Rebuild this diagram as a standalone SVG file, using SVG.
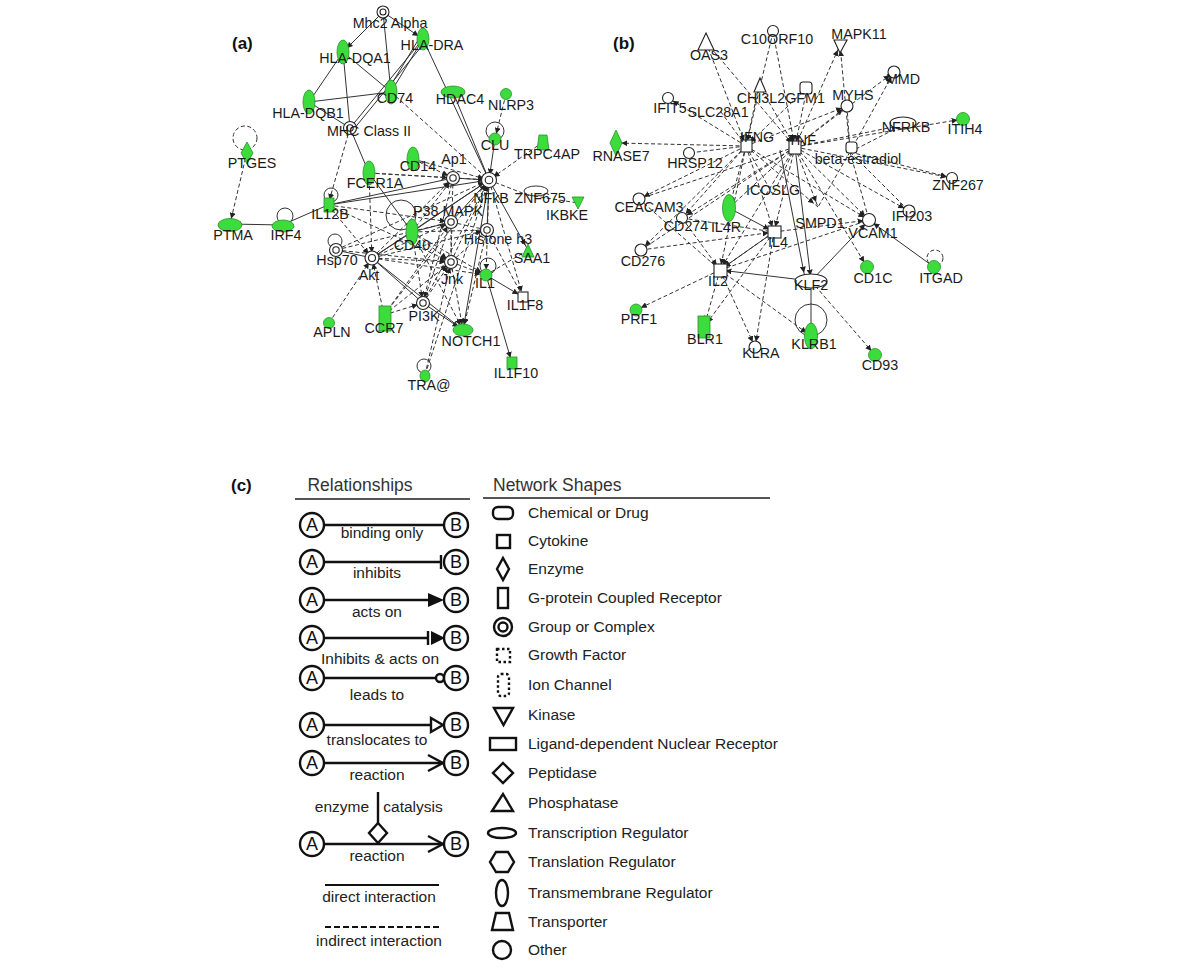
<svg xmlns="http://www.w3.org/2000/svg" width="1200" height="972" viewBox="0 0 1200 972">
<style>
.e{fill:none;stroke:#333;stroke-width:1}
.i{stroke-dasharray:4 2.5}
.a{marker-end:url(#ar)}
.g{fill:#3ddc3d;stroke:#2a8f2a;stroke-width:0.8}
.w{fill:#fff;stroke:#222;stroke-width:1.1}
.t{font-family:"Liberation Sans",Arial,sans-serif;font-size:14.3px;fill:#1a1a1a;text-anchor:middle}
.p{font-family:"Liberation Sans",Arial,sans-serif;font-size:17px;font-weight:bold;fill:#111}
.h{font-family:"Liberation Sans",Arial,sans-serif;font-size:17.5px;fill:#333}
.l{font-family:"Liberation Sans",Arial,sans-serif;font-size:15.5px;fill:#222}
.lc{text-anchor:middle}
.k{fill:none;stroke:#111;stroke-width:2.4}
.kw{fill:#fff;stroke:#111;stroke-width:2.4}
.ab{font-family:"Liberation Sans",Arial,sans-serif;font-size:18px;fill:#111;text-anchor:middle}
</style>
<defs>
<marker id="ar" viewBox="0 0 10 10" refX="19" refY="5" markerWidth="6" markerHeight="6" markerUnits="userSpaceOnUse" orient="auto"><path d="M0,0 L10,5 L0,10 z" fill="#222"/></marker>
</defs>
<rect width="1200" height="972" fill="#fff"/>

<text class="p" x="232" y="49">(a)</text>
<text class="p" x="613" y="49">(b)</text>
<text class="p" x="231" y="491">(c)</text>

<!-- ===== Panel (a) connectors ===== -->
<g id="connectors-a">
<path class="e a" d="M383 12 L343 52"/>
<path class="e a" d="M383 12 L423 39"/>
<path class="e" d="M383 12 L391 92"/>
<path class="e" d="M343 52 L309 102"/>
<path class="e" d="M343 52 L391 92"/>
<path class="e a" d="M350 128 L343 52"/>
<path class="e" d="M309 102 L391 92"/>
<path class="e" d="M309 102 L350 128"/>
<path class="e" d="M423 39 L391 92"/>
<path class="e" d="M420 37 L388 90"/>
<path class="e" d="M423 39 L350 128"/>
<path class="e" d="M426 41 L353 130"/>
<path class="e" d="M423 39 L489 180"/>
<path class="e" d="M453 92 L489 180"/>
<path class="e" d="M350 128 L369 173"/>
<path class="e a" d="M495 139 L489 180"/>
<path class="e a" d="M282 225 L230 224"/>
<path class="e" d="M328 205 L282 225"/>
<path class="e" d="M328 205 L453 178"/>
<path class="e" d="M328 205 L489 180"/>
<path class="e a" d="M489 180 L528 250"/>
<path class="e a" d="M489 180 L463 330"/>
<path class="e a" d="M486 275 L512 363"/>
<path class="e a" d="M486 275 L523 297"/>
<path class="e" d="M336 250 L372 258"/>
<path class="e" d="M372 258 L423 303"/>
<path class="e a" d="M423 303 L463 330"/>
<path class="e" d="M369 173 L412 232"/>
<path class="e" d="M372 258 L412 232"/>
<path class="e" d="M372 258 L463 330"/>
<path class="e" d="M412 232 L451 222"/>
<path class="e" d="M453 178 L489 180"/>
<path class="e" d="M451 222 L489 180"/>
<path class="e" d="M489 180 L487 230"/>
<path class="e" d="M372 258 L489 180"/>
<path class="e" d="M412 232 L489 180"/>
<path class="e i" d="M391 92 L489 180"/>
<path class="e i a" d="M350 128 L328 205"/>
<path class="e i a" d="M247 152 L230 224"/>
<path class="e i a" d="M506 94 L495 139"/>
<path class="e i a" d="M543 142 L489 180"/>
<path class="e i" d="M534 196 L578 203"/>
<path class="e i" d="M489 180 L530 196"/>
<path class="e i a" d="M413 159 L453 178"/>
<path class="e i a" d="M413 159 L489 180"/>
<path class="e i a" d="M369 173 L453 178"/>
<path class="e i a" d="M369 173 L489 180"/>
<path class="e i a" d="M369 173 L372 258"/>
<path class="e i a" d="M328 205 L372 258"/>
<path class="e i a" d="M328 205 L451 262"/>
<path class="e i a" d="M328 205 L451 222"/>
<path class="e i a" d="M336 250 L489 180"/>
<path class="e i a" d="M336 250 L451 262"/>
<path class="e i" d="M336 250 L451 222"/>
<path class="e i a" d="M372 258 L453 178"/>
<path class="e i a" d="M372 258 L451 222"/>
<path class="e i a" d="M372 258 L451 262"/>
<path class="e i a" d="M372 258 L487 230"/>
<path class="e i a" d="M372 258 L486 275"/>
<path class="e i a" d="M329 323 L372 258"/>
<path class="e i a" d="M384 315 L372 258"/>
<path class="e i a" d="M384 315 L451 222"/>
<path class="e i a" d="M384 315 L451 262"/>
<path class="e i a" d="M384 315 L489 180"/>
<path class="e i a" d="M384 315 L423 303"/>
<path class="e i a" d="M412 232 L453 178"/>
<path class="e i a" d="M412 232 L451 262"/>
<path class="e i" d="M412 232 L487 230"/>
<path class="e i a" d="M412 232 L486 275"/>
<path class="e i a" d="M412 232 L423 303"/>
<path class="e i" d="M451 222 L487 230"/>
<path class="e i" d="M451 222 L451 262"/>
<path class="e i a" d="M451 262 L489 180"/>
<path class="e i a" d="M451 262 L486 275"/>
<path class="e i" d="M451 262 L487 230"/>
<path class="e i a" d="M451 262 L463 330"/>
<path class="e i a" d="M423 303 L489 180"/>
<path class="e i" d="M423 303 L451 222"/>
<path class="e i a" d="M423 303 L451 262"/>
<path class="e i a" d="M425 375 L451 262"/>
<path class="e i a" d="M425 375 L489 180"/>
<path class="e i a" d="M489 180 L523 297"/>
<path class="e i a" d="M489 180 L486 275"/>
<path class="e i a" d="M487 230 L463 330"/>
<path class="e i" d="M528 250 L486 275"/>
<path class="e i" d="M453 178 L451 262"/>
<path class="e i a" d="M453 178 L423 303"/>
<path class="e i" d="M487 230 L523 297"/>
<path class="e i a" d="M412 232 L463 330"/>
<!-- self loops -->
<circle class="e i" cx="245" cy="138" r="12"/>
<circle class="e" cx="495" cy="131" r="9"/>
<circle class="e" cx="331" cy="195" r="7"/>
<circle class="e" cx="285" cy="216" r="8"/>
<circle class="e" cx="335" cy="241" r="7"/>
<circle class="e" cx="401" cy="215" r="15"/>
<ellipse class="e" cx="536" cy="191" rx="12" ry="5"/>
<circle class="e" cx="488" cy="266" r="8"/>
<circle class="e" cx="424" cy="366" r="7"/>
</g>

<!-- ===== Panel (a) nodes ===== -->
<g id="n-Mhc2Alpha"><circle class="w" cx="383" cy="12" r="6"/><circle class="w" cx="383" cy="12" r="3"/><text class="t" x="390" y="28">Mhc2 Alpha</text></g>
<g id="n-HLA-DRA"><ellipse class="g" cx="423" cy="39" rx="6" ry="11"/><text class="t" x="432" y="50">HLA-DRA</text></g>
<g id="n-HLA-DQA1"><ellipse class="g" cx="343" cy="52" rx="6" ry="12"/><text class="t" x="355" y="63">HLA-DQA1</text></g>
<g id="n-CD74"><ellipse class="g" cx="391" cy="92" rx="6" ry="12"/><text class="t" x="395" y="103">CD74</text></g>
<g id="n-HDAC4"><ellipse class="g" cx="453" cy="92" rx="12" ry="6"/><text class="t" x="460" y="104">HDAC4</text></g>
<g id="n-HLA-DQB1"><ellipse class="g" cx="309" cy="102" rx="6" ry="12"/><text class="t" x="308" y="118">HLA-DQB1</text></g>
<g id="n-MHCClassII"><circle class="w" cx="350" cy="128" r="6.5"/><circle class="w" cx="350" cy="128" r="3.2"/><text class="t" x="369" y="136">MHC Class II</text></g>
<g id="n-PTGES"><polygon class="g" points="247,142 253,153 247,164 241,153"/><text class="t" x="252" y="168">PTGES</text></g>
<g id="n-CD14"><ellipse class="g" cx="413" cy="159" rx="6" ry="12"/><text class="t" x="418" y="171">CD14</text></g>
<g id="n-FCER1A"><ellipse class="g" cx="369" cy="173" rx="6" ry="12"/><text class="t" x="375" y="188">FCER1A</text></g>
<g id="n-Ap1"><circle class="w" cx="453" cy="178" r="6.5"/><circle class="w" cx="453" cy="178" r="3.2"/><text class="t" x="454" y="164">Ap1</text></g>
<g id="n-NFkB"><circle class="w" cx="489" cy="180" r="7.5"/><circle class="w" cx="489" cy="180" r="3.8"/><text class="t" x="491" y="203">NFkB</text></g>
<g id="n-CLU"><circle class="g" cx="495" cy="139" r="6"/><text class="t" x="495" y="150">CLU</text></g>
<g id="n-NLRP3"><circle class="g" cx="506" cy="94" r="5.5"/><text class="t" x="511" y="110">NLRP3</text></g>
<g id="n-TRPC4AP"><polygon class="g" points="539,135 547,135 549,150 537,150"/><text class="t" x="547" y="159">TRPC4AP</text></g>
<g id="n-ZNF675"><text class="t" x="540" y="203">ZNF675</text></g>
<g id="n-IKBKE"><polygon class="g" points="572,197 584,197 578,209"/><text class="t" x="567" y="220">IKBKE</text></g>
<g id="n-P38MAPK"><circle class="w" cx="451" cy="222" r="6.5"/><circle class="w" cx="451" cy="222" r="3.2"/><text class="t" x="448" y="216">P38 MAPK</text></g>
<g id="n-Histoneh3"><circle class="w" cx="487" cy="230" r="6.5"/><circle class="w" cx="487" cy="230" r="3.2"/><text class="t" x="498" y="244">Histone h3</text></g>
<g id="n-CD40"><ellipse class="g" cx="412" cy="232" rx="6" ry="13"/><text class="t" x="412" y="250">CD40</text></g>
<g id="n-SAA1"><polygon class="g" points="528,244 534,257 522,257"/><text class="t" x="532" y="263">SAA1</text></g>
<g id="n-Jnk"><circle class="w" cx="451" cy="262" r="6.5"/><circle class="w" cx="451" cy="262" r="3.2"/><text class="t" x="452" y="284">Jnk</text></g>
<g id="n-IL1"><circle class="g" cx="486" cy="275" r="6"/><text class="t" x="485" y="288">IL1</text></g>
<g id="n-IL1F8"><rect class="w" x="518" y="292" width="10" height="10"/><text class="t" x="525" y="310">IL1F8</text></g>
<g id="n-PI3K"><circle class="w" cx="423" cy="303" r="6.5"/><circle class="w" cx="423" cy="303" r="3.2"/><text class="t" x="424" y="321">PI3K</text></g>
<g id="n-NOTCH1"><ellipse class="g" cx="463" cy="330" rx="10" ry="6"/><text class="t" x="471" y="346">NOTCH1</text></g>
<g id="n-IL1F10"><rect class="g" x="507" y="357" width="10" height="12"/><text class="t" x="516" y="378">IL1F10</text></g>
<g id="n-TRA"><ellipse class="g" cx="425" cy="376" rx="5" ry="6"/><text class="t" x="429" y="390">TRA@</text></g>
<g id="n-IL12B"><rect class="g" x="324" y="198" width="10" height="14"/><text class="t" x="330" y="219">IL12B</text></g>
<g id="n-IRF4"><ellipse class="g" cx="283" cy="226" rx="11" ry="6"/><text class="t" x="286" y="240">IRF4</text></g>
<g id="n-PTMA"><ellipse class="g" cx="230" cy="225" rx="12" ry="6.5"/><text class="t" x="233" y="240">PTMA</text></g>
<g id="n-Hsp70"><circle class="w" cx="336" cy="250" r="6.5"/><circle class="w" cx="336" cy="250" r="3.2"/><text class="t" x="337" y="265">Hsp70</text></g>
<g id="n-Akt"><circle class="w" cx="372" cy="258" r="7"/><circle class="w" cx="372" cy="258" r="3.5"/><text class="t" x="369" y="280">Akt</text></g>
<g id="n-APLN"><circle class="g" cx="329" cy="323" r="5.5"/><text class="t" x="332" y="337">APLN</text></g>
<g id="n-CCR7"><rect class="g" x="379" y="306" width="12" height="25"/><text class="t" x="384" y="333">CCR7</text></g>

<!-- ===== Panel (b) connectors ===== -->
<g id="connectors-b">
<path class="e i a" d="M706 42 L746 146"/>
<path class="e i a" d="M706 42 L795 147"/>
<path class="e i a" d="M773 32 L746 146"/>
<path class="e i a" d="M773 32 L795 147"/>
<path class="e i a" d="M759 85 L746 146"/>
<path class="e i a" d="M759 85 L795 147"/>
<path class="e i a" d="M807 88 L746 146"/>
<path class="e i a" d="M807 88 L795 147"/>
<path class="e i a" d="M795 147 L840 45"/>
<path class="e i a" d="M850 152 L840 45"/>
<path class="e i a" d="M795 147 L847 106"/>
<path class="e i a" d="M746 146 L847 106"/>
<path class="e i" d="M847 106 L850 152"/>
<path class="e i a" d="M795 147 L894 72"/>
<path class="e i a" d="M850 152 L894 72"/>
<path class="e i a" d="M795 147 L903 125"/>
<path class="e i" d="M850 152 L903 125"/>
<path class="e i a" d="M795 147 L963 119"/>
<path class="e i a" d="M795 147 L952 178"/>
<path class="e i a" d="M850 152 L952 178"/>
<path class="e i a" d="M746 146 L668 98"/>
<path class="e i" d="M746 146 L718 108"/>
<path class="e i a" d="M746 146 L616 143"/>
<path class="e i" d="M746 146 L689 153"/>
<path class="e i a" d="M746 146 L639 199"/>
<path class="e i" d="M795 147 L639 199"/>
<path class="e i a" d="M746 146 L682 218"/>
<path class="e i a" d="M795 147 L682 218"/>
<path class="e i a" d="M746 146 L641 250"/>
<path class="e i" d="M795 147 L641 250"/>
<path class="e i a" d="M746 146 L729 208"/>
<path class="e i" d="M795 147 L729 208"/>
<path class="e i a" d="M746 146 L720 270"/>
<path class="e i a" d="M795 147 L720 270"/>
<path class="e i a" d="M746 146 L774 232"/>
<path class="e i a" d="M795 147 L774 232"/>
<path class="e i" d="M795 147 L773 195"/>
<path class="e i" d="M746 146 L773 195"/>
<path class="e i a" d="M795 147 L818 207"/>
<path class="e i a" d="M746 146 L818 207"/>
<path class="e i a" d="M795 147 L869 220"/>
<path class="e i a" d="M746 146 L869 220"/>
<path class="e i a" d="M795 147 L909 211"/>
<path class="e i" d="M850 152 L869 220"/>
<path class="e i a" d="M795 147 L867 267"/>
<path class="e i a" d="M774 232 L869 220"/>
<path class="e i" d="M720 270 L869 220"/>
<path class="e i a" d="M774 232 L720 270"/>
<path class="e i" d="M639 199 L720 270"/>
<path class="e i" d="M682 218 L774 232"/>
<path class="e i a" d="M641 250 L774 232"/>
<path class="e i a" d="M682 218 L720 270"/>
<path class="e i a" d="M720 270 L636 310"/>
<path class="e i a" d="M720 270 L704 327"/>
<path class="e i a" d="M774 232 L704 327"/>
<path class="e i a" d="M720 270 L755 347"/>
<path class="e i a" d="M774 232 L755 347"/>
<path class="e i a" d="M720 270 L811 336"/>
<path class="e i a" d="M811 281 L875 355"/>
<path class="e i" d="M850 152 L818 207"/>
<path class="e i" d="M850 152 L909 211"/>
<path class="e a" d="M795 147 L811 281"/>
<path class="e a" d="M780 150 L805 278"/>
<path class="e a" d="M811 281 L720 270"/>
<path class="e a" d="M811 281 L869 220"/>
<path class="e a" d="M934 267 L869 220"/>
<path class="e a" d="M811 281 L811 336"/>
<path class="e a" d="M729 208 L774 232"/>
<path class="e" d="M720 270 L774 232"/>
<circle class="e i" cx="935" cy="258" r="8"/>
<circle class="e" cx="811" cy="320" r="16"/>
</g>

<!-- ===== Panel (b) nodes ===== -->
<g id="n-OAS3"><polygon class="w" points="706,33 714,50 698,50"/><text class="t" x="709" y="60">OAS3</text></g>
<g id="n-C10ORF10"><circle class="w" cx="773" cy="31" r="5.5"/><text class="t" x="777" y="44">C10ORF10</text></g>
<g id="n-MAPK11"><polygon class="w" points="834,40 847,40 840,53"/><text class="t" x="859" y="39">MAPK11</text></g>
<g id="n-CHI3L2"><polygon class="w" points="760,78 766,92 754,92"/><text class="t" x="761" y="103">CHI3L2</text></g>
<g id="n-GFM1"><rect class="w" x="800" y="82" width="12" height="12" rx="3"/><text class="t" x="805" y="103">GFM1</text></g>
<g id="n-IFIT5"><circle class="w" cx="668" cy="98" r="5.5"/><text class="t" x="670" y="113">IFIT5</text></g>
<g id="n-SLC28A1"><text class="t" x="718" y="117">SLC28A1</text></g>
<g id="n-RNASE7"><polygon class="g" points="616,130 622,143 616,156 610,143"/><text class="t" x="621" y="161">RNASE7</text></g>
<g id="n-IFNG"><rect class="w" x="741" y="140" width="11" height="12"/><text class="t" x="757" y="142">IFNG</text></g>
<g id="n-TNF"><rect class="w" x="789" y="141" width="12" height="13"/><text class="t" x="802" y="145">TNF</text></g>
<g id="n-HRSP12"><circle class="w" cx="689" cy="153" r="5.5"/><text class="t" x="695" y="168">HRSP12</text></g>
<g id="n-beta-estradiol"><rect class="w" x="846" y="142" width="11" height="11" rx="3"/><text class="t" x="858" y="164">beta-estradiol</text></g>
<g id="n-MYHS"><circle class="w" cx="847" cy="106" r="6"/><text class="t" x="853" y="100">MYHS</text></g>
<g id="n-MMD"><circle class="w" cx="894" cy="72" r="6"/><text class="t" x="903" y="84">MMD</text></g>
<g id="n-NFRKB"><ellipse class="w" cx="903" cy="123" rx="13" ry="6"/><text class="t" x="906" y="132">NFRKB</text></g>
<g id="n-ITIH4"><circle class="g" cx="963" cy="119" r="6.5"/><text class="t" x="965" y="134">ITIH4</text></g>
<g id="n-ZNF267"><circle class="w" cx="952" cy="178" r="5.5"/><text class="t" x="958" y="190">ZNF267</text></g>
<g id="n-CEACAM3"><circle class="w" cx="639" cy="199" r="6"/><text class="t" x="649" y="212">CEACAM3</text></g>
<g id="n-IL4R"><ellipse class="g" cx="729" cy="208" rx="6.5" ry="13.5"/><text class="t" x="726" y="232">IL4R</text></g>
<g id="n-CD274"><circle class="w" cx="682" cy="218" r="5.5"/><text class="t" x="686" y="231">CD274</text></g>
<g id="n-ICOSLG"><text class="t" x="773" y="195">ICOSLG</text></g>
<g id="n-IL4"><rect class="w" x="768" y="226" width="13" height="12"/><text class="t" x="778" y="247">IL4</text></g>
<g id="n-SMPD1"><text class="t" x="820" y="228">SMPD1</text></g>
<g id="n-VCAM1"><circle class="w" cx="869" cy="220" r="6.5"/><text class="t" x="873" y="238">VCAM1</text></g>
<g id="n-IFI203"><circle class="w" cx="909" cy="211" r="6"/><text class="t" x="912" y="221">IFI203</text></g>
<g id="n-CD276"><circle class="w" cx="641" cy="250" r="6"/><text class="t" x="643" y="266">CD276</text></g>
<g id="n-IL2"><rect class="w" x="714" y="264" width="13" height="13"/><text class="t" x="718" y="286">IL2</text></g>
<g id="n-KLF2"><ellipse class="w" cx="811" cy="281" rx="16" ry="7"/><text class="t" x="811" y="290">KLF2</text></g>
<g id="n-CD1C"><circle class="g" cx="867" cy="267" r="6.5"/><text class="t" x="873" y="283">CD1C</text></g>
<g id="n-ITGAD"><circle class="g" cx="934" cy="267" r="6.5"/><text class="t" x="941" y="283">ITGAD</text></g>
<g id="n-PRF1"><circle class="g" cx="636" cy="310" r="6"/><text class="t" x="639" y="324">PRF1</text></g>
<g id="n-BLR1"><rect class="g" x="698" y="316" width="12" height="22"/><text class="t" x="705" y="344">BLR1</text></g>
<g id="n-KLRA"><circle class="w" cx="755" cy="347" r="6"/><text class="t" x="761" y="358">KLRA</text></g>
<g id="n-KLRB1"><ellipse class="g" cx="811" cy="336" rx="6.5" ry="13"/><text class="t" x="814" y="349">KLRB1</text></g>
<g id="n-CD93"><circle class="g" cx="875" cy="355" r="6.5"/><text class="t" x="880" y="370">CD93</text></g>

<!-- ===== Panel (c) legend: relationships ===== -->
<g id="legend-relationships">
<text class="h lc" x="360" y="491">Relationships</text>
<line x1="295" y1="499" x2="470" y2="499" stroke="#555" stroke-width="2"/>
<!-- row 1 binding only -->
<line class="k" x1="324" y1="525" x2="444" y2="525"/>
<circle class="kw" cx="312" cy="525" r="12"/><text class="ab" x="312" y="531">A</text>
<circle class="kw" cx="456" cy="525" r="12"/><text class="ab" x="456" y="531">B</text>
<text class="l lc" x="382" y="538">binding only</text>
<!-- row 2 inhibits -->
<line class="k" x1="324" y1="562" x2="441" y2="562"/>
<line class="k" x1="441" y1="555" x2="441" y2="569"/>
<circle class="kw" cx="312" cy="562" r="12"/><text class="ab" x="312" y="568">A</text>
<circle class="kw" cx="456" cy="562" r="12"/><text class="ab" x="456" y="568">B</text>
<text class="l lc" x="377" y="578">inhibits</text>
<!-- row 3 acts on -->
<line class="k" x1="324" y1="600" x2="430" y2="600"/>
<polygon points="428,593 444,600 428,607" fill="#111"/>
<circle class="kw" cx="312" cy="600" r="12"/><text class="ab" x="312" y="606">A</text>
<circle class="kw" cx="456" cy="600" r="12"/><text class="ab" x="456" y="606">B</text>
<text class="l lc" x="377" y="617">acts on</text>
<!-- row 4 inhibits & acts on -->
<line class="k" x1="324" y1="638" x2="427" y2="638"/>
<line class="k" x1="428" y1="631" x2="428" y2="645"/>
<polygon points="431,631 445,638 431,645" fill="#111"/>
<circle class="kw" cx="312" cy="638" r="12"/><text class="ab" x="312" y="644">A</text>
<circle class="kw" cx="456" cy="638" r="12"/><text class="ab" x="456" y="644">B</text>
<text class="l lc" x="380" y="664">Inhibits &amp; acts on</text>
<!-- row 5 leads to -->
<line class="k" x1="324" y1="678" x2="436" y2="678"/>
<circle class="kw" cx="440" cy="678" r="4"/>
<circle class="kw" cx="312" cy="678" r="12"/><text class="ab" x="312" y="684">A</text>
<circle class="kw" cx="456" cy="678" r="12"/><text class="ab" x="456" y="684">B</text>
<text class="l lc" x="377" y="700">leads to</text>
<!-- row 6 translocates to -->
<line class="k" x1="324" y1="725" x2="430" y2="725"/>
<polygon class="kw" points="431,718 443,725 431,732"/>
<circle class="kw" cx="312" cy="725" r="12"/><text class="ab" x="312" y="731">A</text>
<circle class="kw" cx="456" cy="725" r="12"/><text class="ab" x="456" y="731">B</text>
<text class="l lc" x="377" y="745">translocates to</text>
<!-- row 7 reaction -->
<line class="k" x1="324" y1="763" x2="443" y2="763"/>
<polyline class="k" points="428,755 443,763 428,771"/>
<circle class="kw" cx="312" cy="763" r="12"/><text class="ab" x="312" y="769">A</text>
<circle class="kw" cx="456" cy="763" r="12"/><text class="ab" x="456" y="769">B</text>
<text class="l lc" x="377" y="780">reaction</text>
<!-- enzyme catalysis -->
<text class="l lc" x="342" y="812">enzyme</text>
<text class="l lc" x="413" y="812">catalysis</text>
<line class="k" x1="378" y1="792" x2="378" y2="823"/>
<line class="k" x1="324" y1="844" x2="443" y2="844"/>
<polyline class="k" points="428,836 443,844 428,852"/>
<polygon class="kw" points="378,823 387,833 378,843 369,833"/>
<circle class="kw" cx="312" cy="844" r="12"/><text class="ab" x="312" y="850">A</text>
<circle class="kw" cx="456" cy="844" r="12"/><text class="ab" x="456" y="850">B</text>
<text class="l lc" x="377" y="861">reaction</text>
<!-- direct / indirect -->
<line x1="325" y1="885" x2="439" y2="885" stroke="#111" stroke-width="2"/>
<text class="l lc" x="379" y="902">direct interaction</text>
<line x1="325" y1="927" x2="439" y2="927" stroke="#111" stroke-width="2" stroke-dasharray="6 3"/>
<text class="l lc" x="379" y="946">indirect interaction</text>
</g>

<!-- ===== Panel (c) legend: network shapes ===== -->
<g id="legend-shapes">
<text class="h" x="493" y="491">Network Shapes</text>
<line x1="483" y1="498" x2="770" y2="498" stroke="#555" stroke-width="2"/>
<rect class="k" x="493" y="507" width="20" height="12" rx="5"/><text class="l" x="528" y="518">Chemical or Drug</text>
<rect class="k" x="497" y="535" width="13" height="13"/><text class="l" x="528" y="546">Cytokine</text>
<polygon class="k" points="503,558 509,569 503,580 497,569"/><text class="l" x="528" y="574">Enzyme</text>
<rect class="k" x="498" y="588" width="10" height="20"/><text class="l" x="528" y="603">G-protein Coupled Receptor</text>
<circle class="k" cx="503" cy="627" r="9"/><circle class="k" cx="503" cy="627" r="4.5"/><text class="l" x="528" y="632">Group or Complex</text>
<rect class="k" x="497" y="649" width="13" height="13" stroke-dasharray="2.5 2.5"/><text class="l" x="528" y="660">Growth Factor</text>
<rect class="k" x="498" y="674" width="11" height="22" rx="3" stroke-dasharray="2.5 2.5"/><text class="l" x="528" y="690">Ion Channel</text>
<polygon class="k" points="494,708 513,708 503.5,725"/><text class="l" x="528" y="720">Kinase</text>
<rect class="k" x="490" y="738" width="26" height="12"/><text class="l" x="528" y="749">Ligand-dependent Nuclear Receptor</text>
<polygon class="k" points="503,763 513,773 503,783 493,773"/><text class="l" x="528" y="778">Peptidase</text>
<polygon class="k" points="503,794 513,811 492,811"/><text class="l" x="528" y="808">Phosphatase</text>
<ellipse class="k" cx="502" cy="833" rx="14" ry="5"/><text class="l" x="528" y="838">Transcription Regulator</text>
<polygon class="k" points="496,852 508,852 514,862 508,872 496,872 490,862"/><text class="l" x="528" y="867">Translation Regulator</text>
<ellipse class="k" cx="502" cy="893" rx="6" ry="13"/><text class="l" x="528" y="898">Transmembrane Regulator</text>
<polygon class="k" points="496,913 509,913 513,930 492,930"/><text class="l" x="528" y="927">Transporter</text>
<circle class="k" cx="502" cy="950" r="9"/><text class="l" x="528" y="955">Other</text>
</g>
</svg>
